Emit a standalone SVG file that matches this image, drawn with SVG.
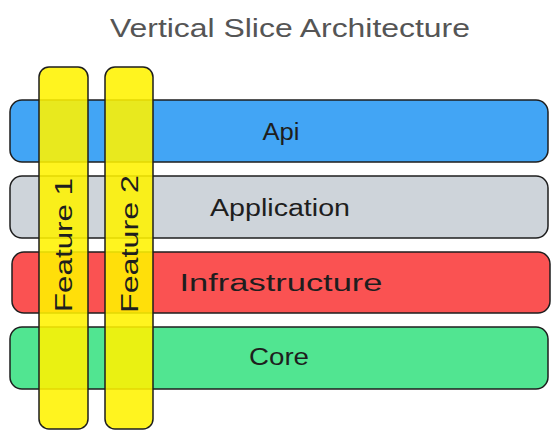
<svg xmlns="http://www.w3.org/2000/svg" width="560" height="439" viewBox="0 0 560 439">
<style>
.bar{stroke:#1e1e1e;stroke-width:1.5}
.feat{fill:#fff200;fill-opacity:0.88;stroke:#1e1e1e;stroke-width:1.5}
.lbl{font-family:"Comic Sans MS","Liberation Sans",sans-serif;font-size:23px;fill:#1e1e1e;text-anchor:middle;dominant-baseline:central}
.title{font-family:"Comic Sans MS","Liberation Sans",sans-serif;font-size:25px;fill:#555;text-anchor:middle;dominant-baseline:central}
</style>
<rect width="560" height="439" fill="#fff"/>
<text class="title" x="290" y="28" textLength="360" lengthAdjust="spacingAndGlyphs">Vertical Slice Architecture</text>
<g id="api"><rect class="bar" x="10" y="100" width="538" height="62" rx="12" fill="#42a5f5"/><text class="lbl" x="281" y="132" textLength="37" lengthAdjust="spacingAndGlyphs">Api</text></g>
<g id="application"><rect class="bar" x="10" y="176" width="538" height="62" rx="12" fill="#ced4da"/><text class="lbl" x="280" y="208" textLength="140" lengthAdjust="spacingAndGlyphs">Application</text></g>
<g id="infrastructure"><rect class="bar" x="12" y="252" width="538" height="61" rx="12" fill="#fa5252"/><text class="lbl" x="281" y="283" textLength="203" lengthAdjust="spacingAndGlyphs">Infrastructure</text></g>
<g id="core"><rect class="bar" x="10" y="327" width="538" height="62" rx="12" fill="#51e591"/><text class="lbl" x="279" y="357" textLength="60" lengthAdjust="spacingAndGlyphs">Core</text></g>
<g id="feature1"><rect class="feat" x="39" y="67" width="49" height="362" rx="10"/><text class="lbl" x="64" y="245" transform="rotate(-90 64 245)" textLength="134" lengthAdjust="spacingAndGlyphs">Feature 1</text></g>
<g id="feature2"><rect class="feat" x="105" y="67" width="48" height="362" rx="10"/><text class="lbl" x="130" y="244" transform="rotate(-90 130 244)" textLength="138" lengthAdjust="spacingAndGlyphs">Feature 2</text></g>
<g id="connectors"/>
</svg>
